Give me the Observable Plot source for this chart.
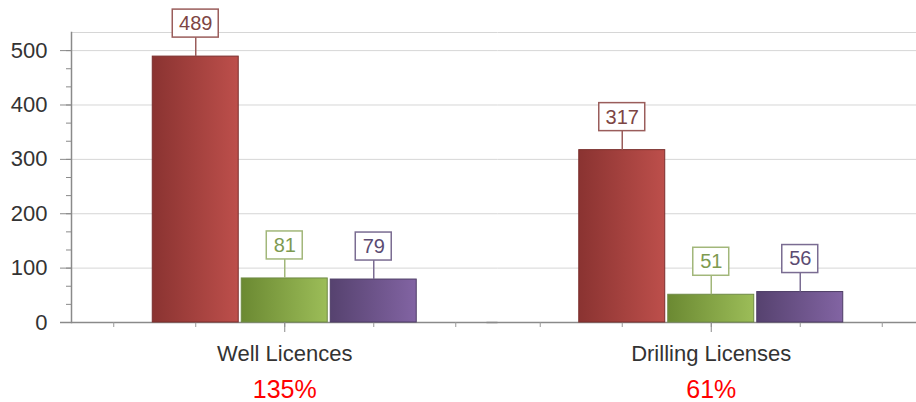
<!DOCTYPE html>
<html><head><meta charset="utf-8">
<script src="https://cdn.jsdelivr.net/npm/d3@7"></script>
<script src="https://cdn.jsdelivr.net/npm/@observablehq/plot@0.6"></script>
<style>
body{margin:0;background:#fff}
#chart svg{display:block;background:#fff}
</style>
</head><body><div id="chart"></div>
<script>
// ---- data ----
const categories = ["Well Licences", "Drilling Licenses"];
const series = ["Series 1", "Series 2", "Series 3"];
const valuesS1 = [489, 317];
const valuesS2 = [81, 51];
const valuesS3 = [79, 56];
const percentLabels = ["135%", "61%"];
const yTicks = [0, 100, 200, 300, 400, 500];
const yMax = 533.33;

// ---- styles ----
const gradStops = [["#8a3331", "#bd4f4b"], ["#6b8932", "#9cbd58"], ["#56426f", "#8264a3"]];
const barStroke = ["#7a2f2d", "#6f8a45", "#4e3d66"];
const labelStroke = ["#9a5d5b", "#a2b77a", "#7a6c92"];
const labelText = ["#7d4544", "#7e9a50", "#5b4b72"];

const seriesValues = [valuesS1, valuesS2, valuesS3];
const rows = categories.flatMap((c, ci) => series.map((s, si) => ({category: c, series: s, si, value: seriesValues[si][ci]})));
const pctRows = categories.map((c, i) => ({category: c, text: percentLabels[i]}));
const minorY = d3.range(0, yMax, 100 / 3);

const marks = [
  Plot.gridY([100, 200, 300, 400, 500, yMax], {stroke: "#d6d6d6", strokeOpacity: 1}),
  Plot.axisY(minorY, {tickSize: 5, text: null, label: null, stroke: "#8a8a8a"}),
  Plot.axisY(yTicks, {tickSize: 11, tickPadding: 13, label: null, fontSize: 22, stroke: "#8a8a8a", fill: "#333"}),
  Plot.frame({anchor: "left", facetAnchor: "left", stroke: "#8a8a8a", strokeWidth: 1.5}),
  Plot.ruleY([0], {stroke: "#8a8a8a", strokeWidth: 1.5, insetLeft: -11}),
  Plot.ruleX(rows, {x: "series", fx: "category", y1: 0, y2: 0, insetBottom: -5, stroke: "#999"}),
  Plot.ruleX(rows.filter(d => d.si === 0), {x: "series", fx: "category", y1: 0, y2: 0, insetBottom: -5, stroke: "#999", dx: -82}),
  Plot.ruleX(rows.filter(d => d.si === 2), {x: "series", fx: "category", y1: 0, y2: 0, insetBottom: -5, stroke: "#999", dx: 82}),
];

series.forEach((s, si) => {
  const data = rows.filter(d => d.si === si);
  marks.push(
    Plot.barY(data, {x: "series", fx: "category", y: "value", fill: `url(#grad${si})`, stroke: barStroke[si], strokeWidth: 1}),
    Plot.ruleX(data, {x: "series", fx: "category", y1: "value", y2: "value", insetTop: -19, stroke: labelStroke[si], strokeWidth: 1.5}),
    Plot.barY(data.filter(d => d.value >= 100), {x: "series", fx: "category", y1: "value", y2: "value", insetTop: -28, insetBottom: 0, dy: -19, insetLeft: 20, insetRight: 20, fill: "white", stroke: labelStroke[si], strokeWidth: 1.5}),
    Plot.barY(data.filter(d => d.value < 100), {x: "series", fx: "category", y1: "value", y2: "value", insetTop: -28, insetBottom: 0, dy: -19, insetLeft: 25, insetRight: 25, fill: "white", stroke: labelStroke[si], strokeWidth: 1.5}),
    Plot.text(data, {x: "series", fx: "category", y: "value", text: d => String(d.value), dy: -33, fontSize: 20, fill: labelText[si]})
  );
});

marks.push(
  Plot.axisFx({anchor: "bottom", tickSize: 10, tickPadding: 13, label: null, fontSize: 22, stroke: "#8a8a8a", fill: "#333"}),
  Plot.text(pctRows, {fx: "category", frameAnchor: "bottom", text: "text", dy: 75, fontSize: 25, fill: "#ff0000"})
);

const plot = Plot.plot({
  width: 916,
  height: 402,
  marginTop: 32,
  marginBottom: 80,
  marginLeft: 71,
  marginRight: -8,
  style: {fontFamily: "'Liberation Sans', Arial, sans-serif", fontSize: "21px", color: "#333", background: "#fff"},
  fx: {domain: categories, padding: 0, axis: null, round: false},
  x: {domain: series, paddingInner: 0.034, paddingOuter: 0.913, axis: null, round: false},
  y: {domain: [0, yMax], axis: null},
  marks
});

const defs = d3.select(plot).insert("defs", ":first-child");
gradStops.forEach((st, i) => {
  const g = defs.append("linearGradient").attr("id", `grad${i}`).attr("x1", 0).attr("x2", 1).attr("y1", 0).attr("y2", 0);
  g.append("stop").attr("offset", "0%").attr("stop-color", st[0]);
  g.append("stop").attr("offset", "100%").attr("stop-color", st[1]);
});

document.getElementById("chart").appendChild(plot);
</script>
</body></html>
